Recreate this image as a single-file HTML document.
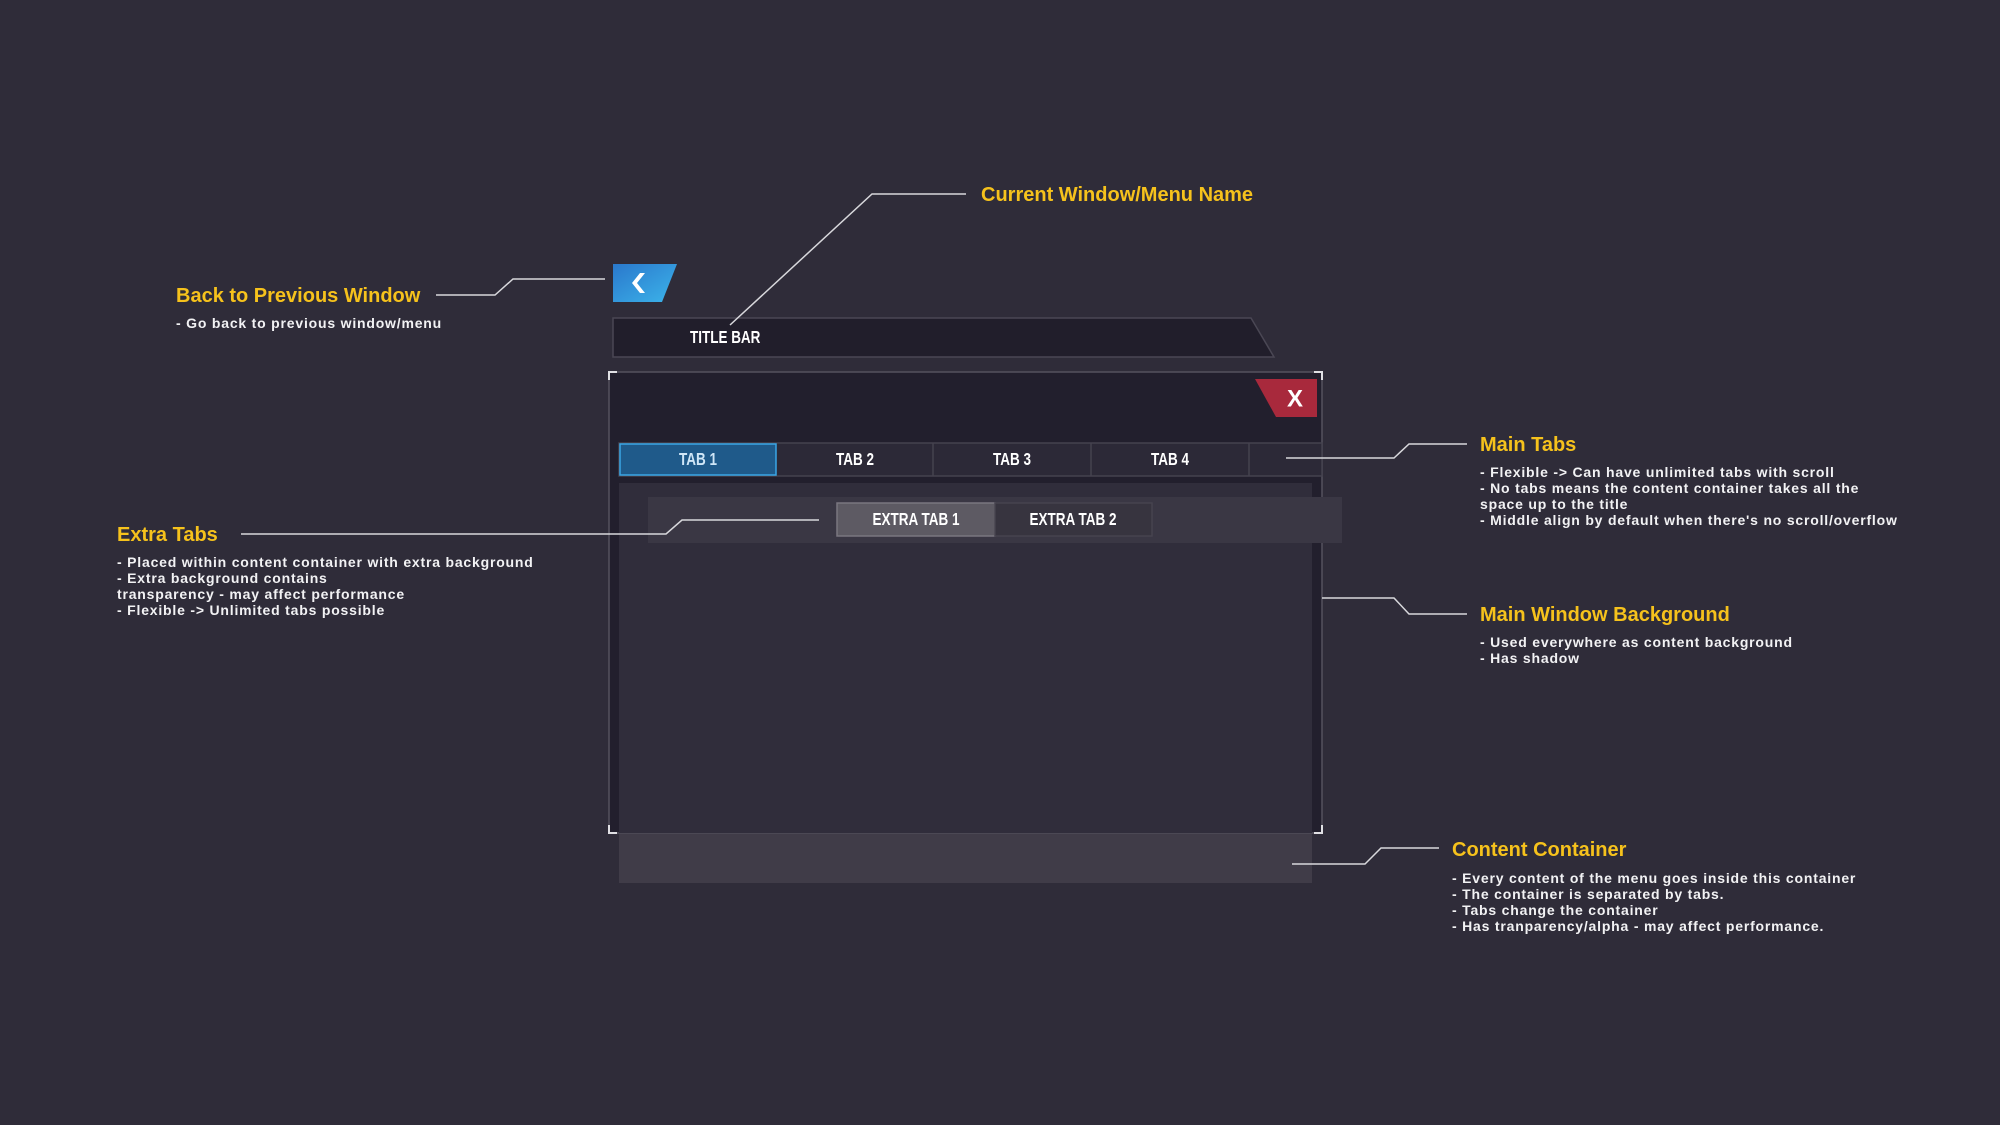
<!DOCTYPE html>
<html><head><meta charset="utf-8"><style>
html,body{margin:0;padding:0;background:#2f2c39;}
svg{display:block}
.t{font-family:"Liberation Sans",sans-serif;font-weight:bold;fill:#f6c21c;font-size:20px}
.s{font-family:"Liberation Sans",sans-serif;font-weight:bold;fill:#f2f2f4;font-size:14px;letter-spacing:0.8px}
.b{font-family:"Liberation Sans",sans-serif;font-weight:bold;fill:#fff;font-size:18px}
</style></head><body>
<svg width="2000" height="1125" viewBox="0 0 2000 1125" xmlns="http://www.w3.org/2000/svg">
<defs><linearGradient id="g" x1="0" y1="0" x2="1" y2="1"><stop offset="0" stop-color="#2a78cc"/><stop offset="1" stop-color="#3cb4ea"/></linearGradient></defs>
<rect width="2000" height="1125" fill="#2f2c39"/>
<rect x="609" y="372" width="713" height="461" fill="#221f2d" stroke="#55525e" stroke-width="1.5"/>
<path d="M609 380V372h8 M1314 372h8v8 M609 825v8h8 M1314 833h8v-8" stroke="#e0e0e4" stroke-width="2" fill="none"/>
<rect x="619" y="483" width="693" height="350" fill="#302d3b"/>
<rect x="619" y="834" width="693" height="49" fill="#403c48"/>
<rect x="619" y="443" width="703" height="33" fill="#2c2937" stroke="#45424f" stroke-width="1.5"/>
<rect x="620" y="444" width="156" height="31" fill="#1f5a8a" stroke="#3aa6e6" stroke-width="1.5"/>
<line x1="933" y1="443" x2="933" y2="476" stroke="#45424f" stroke-width="1.5"/>
<line x1="1091" y1="443" x2="1091" y2="476" stroke="#45424f" stroke-width="1.5"/>
<line x1="1249" y1="443" x2="1249" y2="476" stroke="#45424f" stroke-width="1.5"/>
<g class="b" text-anchor="middle" dominant-baseline="central">
<text x="698" y="460" transform="translate(698 0) scale(0.75 1) translate(-698 0)" fill="#cfe6f7">TAB 1</text>
<text x="855" y="460" transform="translate(855 0) scale(0.75 1) translate(-855 0)">TAB 2</text>
<text x="1012" y="460" transform="translate(1012 0) scale(0.75 1) translate(-1012 0)">TAB 3</text>
<text x="1170" y="460" transform="translate(1170 0) scale(0.75 1) translate(-1170 0)">TAB 4</text>
</g>
<rect x="648" y="497" width="694" height="46" fill="#3a3744"/>
<rect x="837" y="503" width="158" height="33" fill="#5d5a63" stroke="#7a7780" stroke-width="1.5"/>
<rect x="995" y="503" width="157" height="33" fill="#37343f" stroke="#46434e" stroke-width="1.5"/>
<g class="b" text-anchor="middle" dominant-baseline="central">
<text x="916" y="520" transform="translate(916 0) scale(0.75 1) translate(-916 0)">EXTRA TAB 1</text>
<text x="1073" y="520" transform="translate(1073 0) scale(0.75 1) translate(-1073 0)">EXTRA TAB 2</text>
</g>
<polygon points="613,264 677,264 662,302 613,302" fill="url(#g)"/>
<polygon points="640,273 632,283 640,293 645,293 637,283 645,273" fill="#fff"/>
<polygon points="613,318 1251,318 1274,357 613,357" fill="#211e2b" stroke="#4a4754" stroke-width="1.5"/>
<text class="b" x="690" y="338" dominant-baseline="central" transform="translate(690 0) scale(0.75 1) translate(-690 0)">TITLE BAR</text>
<polygon points="1255,379 1317,379 1317,417 1276,417" fill="#a8293c"/>
<text x="1295" y="399" text-anchor="middle" dominant-baseline="central" font-family="Liberation Sans,sans-serif" font-weight="bold" font-size="24" fill="#fff">X</text>
<g stroke="#d8d8dc" stroke-width="1.5" fill="none">
<polyline points="436,295 495,295 513,279 605,279"/>
<polyline points="730,325 872,194 966,194"/>
<polyline points="1286,458 1394,458 1409,444 1467,444"/>
<polyline points="1322,598 1394,598 1409,614 1467,614"/>
<polyline points="1292,864 1365,864 1381,848 1439,848"/>
<polyline points="241,534 666,534 682,520 819,520"/>
</g>
<text class="t" x="981" y="201">Current Window/Menu Name</text>
<text class="t" x="176" y="302">Back to Previous Window</text>
<text class="s" x="176" y="328">- Go back to previous window/menu</text>
<text class="t" x="1480" y="451">Main Tabs</text>
<text class="s" x="1480" y="477">- Flexible -&gt; Can have unlimited tabs with scroll</text>
<text class="s" x="1480" y="493">- No tabs means the content container takes all the</text>
<text class="s" x="1480" y="509">space up to the title</text>
<text class="s" x="1480" y="525">- Middle align by default when there's no scroll/overflow</text>
<text class="t" x="1480" y="621">Main Window Background</text>
<text class="s" x="1480" y="647">- Used everywhere as content background</text>
<text class="s" x="1480" y="663">- Has shadow</text>
<text class="t" x="1452" y="856">Content Container</text>
<text class="s" x="1452" y="883">- Every content of the menu goes inside this container</text>
<text class="s" x="1452" y="899">- The container is separated by tabs.</text>
<text class="s" x="1452" y="915">- Tabs change the container</text>
<text class="s" x="1452" y="931">- Has tranparency/alpha - may affect performance.</text>
<text class="t" x="117" y="541">Extra Tabs</text>
<text class="s" x="117" y="567">- Placed within content container with extra background</text>
<text class="s" x="117" y="583">- Extra background contains</text>
<text class="s" x="117" y="599">transparency - may affect performance</text>
<text class="s" x="117" y="615">- Flexible -&gt; Unlimited tabs possible</text>
</svg>
</body></html>
